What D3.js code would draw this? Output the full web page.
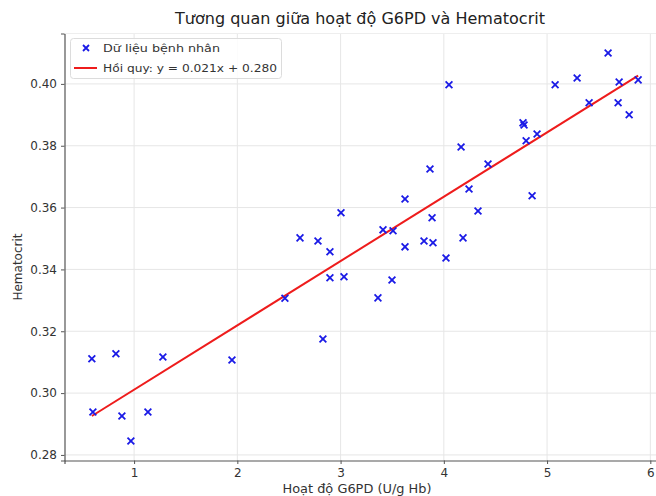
<!DOCTYPE html>
<html><head><meta charset="utf-8">
<script src="https://cdn.jsdelivr.net/npm/d3@7"></script>
<style>body{margin:0;background:#fff}svg{display:block;font-family:"DejaVu Sans",sans-serif}</style>
</head><body><svg id="c" width="656" height="496"></svg>
<script>
const g6pd = [0.591,0.601,0.824,0.882,0.969,1.134,1.279,1.948,2.461,2.607,2.781,2.897,2.897,2.829,3.004,3.033,3.362,3.411,3.508,3.498,3.624,3.624,3.808,3.866,3.886,3.895,4.021,4.050,4.167,4.186,4.244,4.331,4.428,4.767,4.777,4.797,4.855,4.903,5.078,5.291,5.407,5.591,5.698,5.688,5.795,5.882];
const hct = [0.3111,0.2939,0.3127,0.2926,0.2845,0.2939,0.3117,0.3107,0.3307,0.3502,0.3492,0.3457,0.3373,0.3175,0.3583,0.3376,0.3308,0.3528,0.3525,0.3366,0.3628,0.3473,0.3492,0.3725,0.3567,0.3486,0.3437,0.3997,0.3796,0.3502,0.3660,0.3589,0.3741,0.3874,0.3867,0.3816,0.3638,0.3838,0.3997,0.4019,0.3939,0.4100,0.4006,0.3939,0.3900,0.4013];
const slope = 0.0208, intercept = 0.2803;
const xTicks = [1,2,3,4,5,6];
const yTicks = [0.28,0.30,0.32,0.34,0.36,0.38,0.40];
const title = "Tương quan giữa hoạt độ G6PD và Hematocrit";
const xLabel = "Hoạt độ G6PD (U/g Hb)";
const yLabel = "Hematocrit";
const legendLabels = ["Dữ liệu bệnh nhân", "Hồi quy: y = 0.021x + 0.280"];

const svg = d3.select("#c");
const L=64.5, R=665.5, T=33.5, B=460.5;
const x = d3.scaleLinear().domain([0.326,6.147]).range([L,R]);
const y = d3.scaleLinear().domain([0.2782,0.4163]).range([B,T]);

// grid
svg.append("g").selectAll("line").data(xTicks).join("line")
  .attr("x1",d=>x(d)).attr("x2",d=>x(d)).attr("y1",T).attr("y2",B)
  .attr("stroke","#e6e6e6").attr("stroke-width",1);
svg.append("g").selectAll("line").data(yTicks).join("line")
  .attr("x1",L).attr("x2",R).attr("y1",d=>y(d)).attr("y2",d=>y(d))
  .attr("stroke","#e6e6e6").attr("stroke-width",1);

// axes
const xa = svg.append("g").attr("transform",`translate(0,${B})`)
  .call(d3.axisBottom(x).tickValues(xTicks).tickFormat(d3.format("d")).tickSize(3.5).tickPadding(4));
const ya = svg.append("g").attr("transform",`translate(${L},0)`)
  .call(d3.axisLeft(y).tickValues(yTicks).tickFormat(d3.format(".2f")).tickSize(3.5).tickPadding(4));
[xa,ya].forEach(a=>{
  a.select(".domain").attr("stroke","#555").attr("stroke-width",1.2);
  a.selectAll(".tick line").attr("stroke","#555");
  a.selectAll(".tick text").attr("fill","#333").style("font-size","12px").style("font-family","DejaVu Sans");
});
svg.append("line").attr("x1",L).attr("x2",R).attr("y1",T).attr("y2",T).attr("stroke","#eeeeee");

// regression line
const xs = d3.extent(g6pd);
svg.append("line")
  .attr("x1",x(xs[0])).attr("y1",y(slope*xs[0]+intercept))
  .attr("x2",x(xs[1])).attr("y2",y(slope*xs[1]+intercept))
  .attr("stroke","#ee1c1c").attr("stroke-width",2);

// points
const s=3.4;
svg.append("g").selectAll("path").data(g6pd.map((v,i)=>[v,hct[i]])).join("path")
  .attr("d",d=>{const cx=x(d[0]),cy=y(d[1]);return `M${cx-s},${cy-s}L${cx+s},${cy+s}M${cx-s},${cy+s}L${cx+s},${cy-s}`;})
  .attr("stroke","#1a1ae6").attr("stroke-width",1.8).attr("fill","none");

// title & labels
svg.append("text").attr("x",360).attr("y",24).attr("text-anchor","middle")
  .style("font-size","15px").attr("fill","#222")
  .attr("textLength",370).attr("lengthAdjust","spacingAndGlyphs").text(title);
svg.append("text").attr("x",357).attr("y",493).attr("text-anchor","middle")
  .style("font-size","12.5px").attr("fill","#333")
  .attr("textLength",149).attr("lengthAdjust","spacingAndGlyphs").text(xLabel);
svg.append("text").attr("transform","translate(22,267) rotate(-90)").attr("text-anchor","middle")
  .style("font-size","12px").attr("fill","#333").text(yLabel);

// legend
const lg = svg.append("g");
lg.append("rect").attr("x",70.5).attr("y",38.5).attr("width",211).attr("height",40).attr("rx",3)
  .attr("fill","#fff").attr("fill-opacity",0.85).attr("stroke","#dcdcdc");
const mx=86, my=48, ms=3;
lg.append("path").attr("d",`M${mx-ms},${my-ms}L${mx+ms},${my+ms}M${mx-ms},${my+ms}L${mx+ms},${my-ms}`)
  .attr("stroke","#1a1ae6").attr("stroke-width",1.8);
lg.append("line").attr("x1",74).attr("x2",97).attr("y1",68).attr("y2",68).attr("stroke","#ee1c1c").attr("stroke-width",2);
const lw=[117,174];
lg.selectAll("text.l").data(legendLabels).join("text").attr("class","l")
  .attr("x",103).attr("y",(d,i)=>52+i*20).style("font-size","10.5px").attr("fill","#333")
  .attr("textLength",(d,i)=>lw[i]).attr("lengthAdjust","spacingAndGlyphs").text(d=>d);
</script></body></html>
